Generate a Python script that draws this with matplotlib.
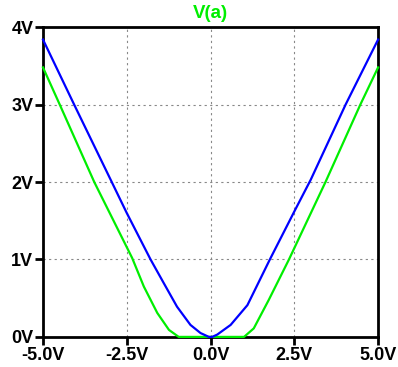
import numpy as np
import matplotlib
matplotlib.use("Agg")
import matplotlib.pyplot as plt

plt.rcParams['font.family'] = ['Liberation Sans', 'DejaVu Sans']

# blue trace
x_blue = [-5.0, -4.07, -2.97, -2.5, -1.79, -1.39, -1.0, -0.6, -0.3, -0.05,
          0.05, 0.2, 0.6, 1.1, 1.77, 2.5, 2.99, 4.03, 5.0]
y_blue = [3.84, 3.0, 2.02, 1.6, 1.0, 0.69, 0.39, 0.155, 0.05, 0.0,
          0.0, 0.03, 0.155, 0.41, 1.0, 1.62, 2.03, 3.0, 3.84]

# green trace V(a)
x_green = [-5.0, -4.5, -3.47, -2.34, -1.99, -1.59, -1.24, -0.95,
           1.0, 1.29, 1.74, 2.34, 3.43, 4.47, 5.0]
y_green = [3.48, 3.0, 2.0, 1.02, 0.65, 0.31, 0.09, 0.0,
           0.0, 0.11, 0.48, 1.0, 2.0, 3.0, 3.48]

xticks = [-5.0, -2.5, 0.0, 2.5, 5.0]
xlabels = ['-5.0V', '-2.5V', '0.0V', '2.5V', '5.0V']
yticks = [0, 1, 2, 3, 4]
ylabels = ['0V', '1V', '2V', '3V', '4V']

fig = plt.figure(figsize=(3.98, 3.67), dpi=100)
ax = fig.add_axes([0.108, 0.082, 0.842, 0.844])

ax.plot(x_green, y_green, color='#00ee00', lw=1.6, zorder=3, clip_on=False,
        solid_joinstyle='round')
ax.plot(x_blue, y_blue, color='#0000ff', lw=1.6, zorder=4, clip_on=False,
        solid_joinstyle='round')

ax.set_xlim(-5, 5)
ax.set_ylim(0, 4)
ax.set_xticks(xticks)
ax.set_xticklabels(xlabels)
ax.set_yticks(yticks)
ax.set_yticklabels(ylabels)
ax.grid(True, color='#888888', ls=(0, (2, 3)), lw=0.8)
ax.set_axisbelow(True)

for s in ax.spines.values():
    s.set_linewidth(2)
ax.tick_params(length=6, width=2, direction='out', labelsize=13, pad=1)
for lab in ax.get_xticklabels() + ax.get_yticklabels():
    lab.set_fontweight('bold')

fig.text(210 / 398, 1 - 13 / 367, 'V(a)', color='#00ee00', fontsize=13.5,
         fontweight='bold', ha='center', va='center')

fig.savefig('out.png', dpi=100)
